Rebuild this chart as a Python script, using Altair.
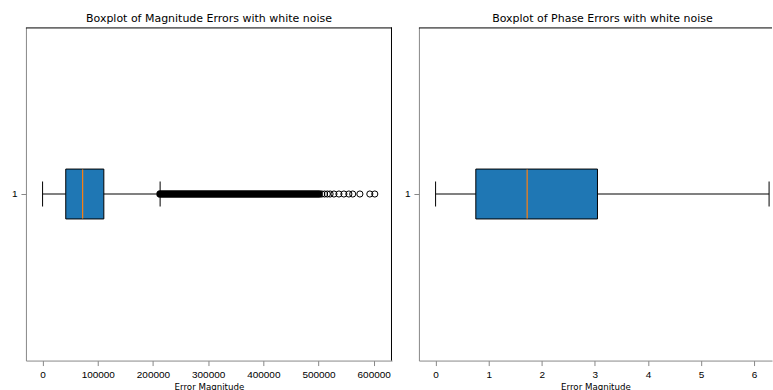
import altair as alt
import pandas as pd

# Summary statistics of the magnitude errors
mag_low = 0
mag_q1 = 42000
mag_median = 72600
mag_q3 = 111000
mag_high = 213000
# Outliers are so dense between these two values that their markers merge into one band
mag_outlier_band = [213000, 501000]
# Sparse outliers in the upper tail
mag_outliers = [506000, 511000, 516000, 521000, 528000, 537000, 546000, 555000,
                562000, 575000, 593000, 602000]
mag_ticks = [0, 100000, 200000, 300000, 400000, 500000, 600000]

# Summary statistics of the phase errors
phase_low = 0.0
phase_q1 = 0.758
phase_median = 1.725
phase_q3 = 3.05
phase_high = 6.283
phase_ticks = [0, 1, 2, 3, 4, 5, 6]

FONT = "DejaVu Sans"
BOX_BLUE = "#1f77b4"
MEDIAN_ORANGE = "#ff7f0e"
TICK_FONT = 8.7
TITLE_FONT = 11


def boxplot_panel(title, low, q1, med, q3, high, domain, ticks, width,
                  band=None, outliers=None, title_dx=0, right_border=True):
    stats = pd.DataFrame({"group": ["1"], "low": [low], "q1": [q1], "med": [med],
                          "q3": [q3], "high": [high]})

    xscale = alt.Scale(domain=domain, nice=False, zero=False)
    xaxis = alt.Axis(values=ticks, format="d", title="Error Magnitude", grid=False,
                     titleFontWeight="normal", titleFont=FONT, titleFontSize=TICK_FONT,
                     titlePadding=3, labelPadding=4)
    yaxis = alt.Axis(title=None, grid=False, labelAngle=0, labelPadding=4)
    yscale = alt.Scale(domain=["1"])
    y = alt.Y("group:N", scale=yscale, axis=yaxis)

    def xq(field):
        return alt.X(field, scale=xscale, axis=xaxis)

    base = alt.Chart(stats)
    whisker = base.mark_rule(color="black", strokeWidth=1).encode(
        x=xq("low:Q"), x2="high:Q", y=y)
    cap_low = base.mark_tick(color="black", size=25, thickness=1, opacity=1).encode(
        x=xq("low:Q"), y=y)
    cap_high = base.mark_tick(color="black", size=25, thickness=1, opacity=1).encode(
        x=xq("high:Q"), y=y)
    box = base.mark_bar(size=50, fill=BOX_BLUE, stroke="black", strokeWidth=1,
                        opacity=1).encode(x=xq("q1:Q"), x2="q3:Q", y=y)
    median = base.mark_tick(color=MEDIAN_ORANGE, size=49, thickness=1.2,
                            opacity=1).encode(x=xq("med:Q"), y=y)
    # top border of the frame
    top = base.mark_rule(color="black", strokeWidth=1).encode(
        x=alt.value(0), x2=alt.value(width), y=alt.value(0.5))

    layers = [whisker, cap_low, cap_high, box, median, top]
    if right_border:
        layers.append(base.mark_rule(color="black", strokeWidth=1).encode(
            x=alt.value(width - 0.5), y=alt.value(0), y2=alt.value(334)))
    if band:
        band_df = pd.DataFrame({"group": ["1"], "start": [band[0]], "end": [band[1]]})
        layers.append(alt.Chart(band_df).mark_rule(
            color="black", strokeWidth=7.5, strokeCap="round").encode(
            x=xq("start:Q"), x2="end:Q", y=y))
    if outliers:
        fliers = pd.DataFrame({"group": ["1"] * len(outliers), "value": outliers})
        layers.append(alt.Chart(fliers).mark_point(
            shape="circle", filled=False, color="black", size=38, strokeWidth=1, opacity=1
        ).encode(x=xq("value:Q"), y=y))

    return alt.layer(*layers).properties(
        width=width, height=334,
        view=alt.ViewBackground(strokeOpacity=0),
        title=alt.TitleParams(title, fontSize=TITLE_FONT, font=FONT, fontWeight="normal",
                              anchor="middle", offset=3, color="black", dx=title_dx),
    )


left = boxplot_panel("Boxplot of Magnitude Errors with white noise",
                     mag_low, mag_q1, mag_median, mag_q3, mag_high,
                     [-30150, 633150], mag_ticks, 367,
                     band=mag_outlier_band, outliers=mag_outliers)
# the phase panel runs past the right edge of the figure
right = boxplot_panel("Boxplot of Phase Errors with white noise",
                      phase_low, phase_q1, phase_median, phase_q3, phase_high,
                      [-0.314, 6.338], phase_ticks, 354,
                      title_dx=7, right_border=False)

chart = alt.hconcat(
    left, right, spacing=27, bounds="flush",
    padding={"left": 11, "top": 12, "right": 0, "bottom": 0},
).configure_axis(
    grid=False, domainColor="black", tickColor="black", labelColor="black",
    titleColor="black", tickSize=3, labelFontSize=TICK_FONT, titleFontSize=TICK_FONT,
    labelFont=FONT, titleFont=FONT, titleFontWeight="normal",
    domainWidth=1, tickWidth=1,
).configure(background="white")

chart.save("out.html", embed_options={"renderer": "svg", "actions": False})
